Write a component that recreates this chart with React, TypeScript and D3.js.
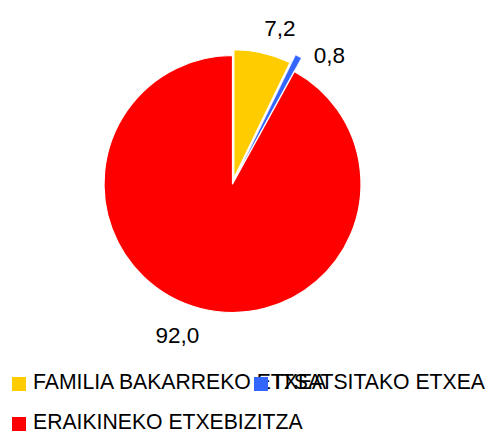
import React from "react";
import * as d3 from "d3";

const categories = ["FAMILIA BAKARREKO ETXEA", "ITSATSITAKO ETXEA", "ERAIKINEKO ETXEBIZITZA"];
const values = [7.2, 0.8, 92.0];
const colors = ["#FFCC00", "#3366FF", "#FF0000"];
const labels = ["7,2", "0,8", "92,0"];

const W = 490, H = 432;
const cx = 232.5, cy = 184, R = 128.5;
const explode = [6, 15, 0];
const labelNudge = [[0, 5], [2, 0], [0, 0]];
const labelRadius = [167, 160, 161];
const labelAngleShift = [3.5, 9, 5.6];

export default function App() {
  const pie = d3.pie<number>().sort(null).value((d) => d)(values);
  const arc = d3.arc<d3.PieArcDatum<number>>().innerRadius(0).outerRadius(R);
  return (
    <svg width={W} height={H} style={{ position: "absolute", left: 0, top: 0, background: "#fff" }}
      fontFamily="'Liberation Sans', Arial, sans-serif">
      <g transform={`translate(${cx},${cy})`}>
        {pie.map((p, i) => {
          const mid = (p.startAngle + p.endAngle) / 2;
          const ox = Math.sin(mid) * explode[i];
          const oy = -Math.cos(mid) * explode[i];
          return (
            <path key={i} d={arc(p) || ""} transform={`translate(${ox},${oy})`}
              fill={colors[i]} stroke="#fff" strokeWidth={i === 1 ? 0.5 : 1.2} strokeLinejoin="round" />
          );
        })}
        {pie.map((p, i) => {
          const mid = (p.startAngle + p.endAngle) / 2 + (labelAngleShift[i] * Math.PI) / 180;
          const x = Math.sin(mid) * labelRadius[i] + labelNudge[i][0];
          const y = -Math.cos(mid) * labelRadius[i] + labelNudge[i][1];
          return (
            <text key={i} x={x} y={y} textAnchor="middle" dominantBaseline="central" fontSize={22.5} fill="#000">
              {labels[i]}
            </text>
          );
        })}
      </g>
      <g fontSize={21.2} fill="#000">
        {[{ i: 0, x: 12, y: 377 }, { i: 1, x: 254, y: 377 }, { i: 2, x: 12, y: 417 }].map(({ i, x, y }) => (
          <g key={i}>
            <rect x={x} y={y} width={14} height={14} fill={colors[i]} />
            <text x={x + 21} y={y + 12}>{categories[i]}</text>
          </g>
        ))}
      </g>
    </svg>
  );
}
